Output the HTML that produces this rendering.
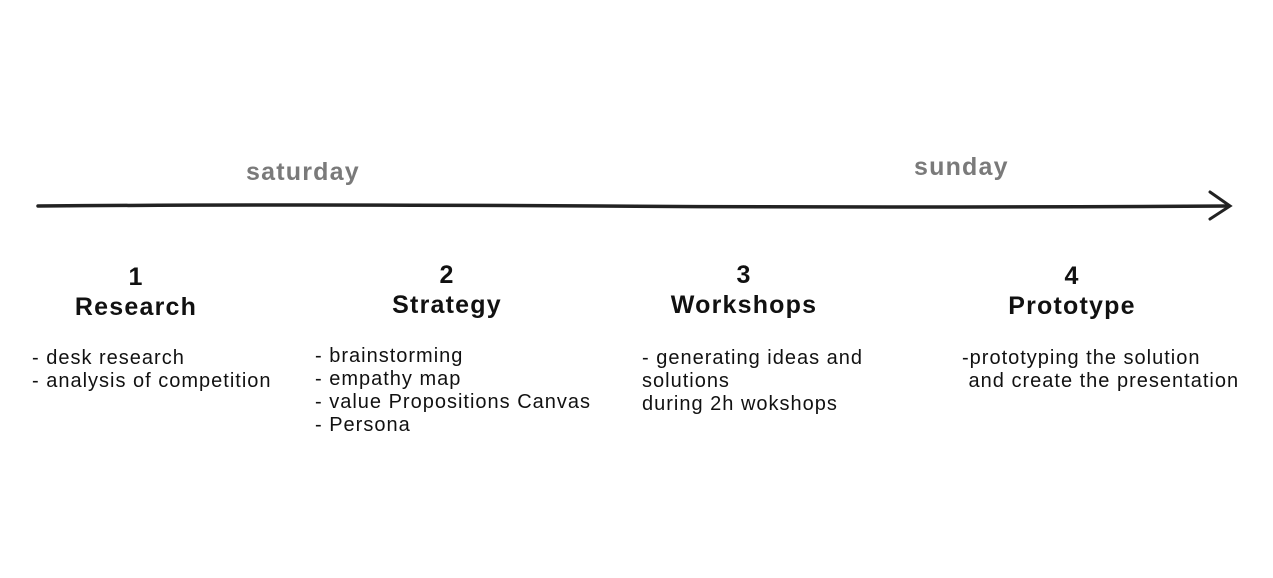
<!DOCTYPE html>
<html><head><style>
body{margin:0;width:1273px;height:578px;background:#fff;position:relative;font-family:"Liberation Sans",sans-serif;overflow:hidden}
.t{position:absolute;white-space:nowrap}
.g{color:#7a7a7a;font-weight:bold;font-size:25px;letter-spacing:1.2px}
.h{font-weight:bold;font-size:25px;color:#111;text-align:center;line-height:30px;letter-spacing:1.2px}
.b{font-size:20px;color:#111;line-height:23px;letter-spacing:1px}
</style></head><body>
<svg width="1273" height="578" style="position:absolute;left:0;top:0">
<path d="M38 206 Q300 204 600 206 T1228 206" stroke="#222" stroke-width="3.5" fill="none" stroke-linecap="round"/>
<path d="M1210 192 L1230 206 L1210 219" stroke="#222" stroke-width="3" fill="none" stroke-linecap="round"/>
</svg>
<div class="t g" style="left:246px;top:158px">saturday</div>
<div class="t g" style="left:914px;top:153px">sunday</div>
<div class="t h" style="left:36px;top:262px;width:200px">1<br>Research</div>
<div class="t h" style="left:347px;top:260px;width:200px">2<br>Strategy</div>
<div class="t h" style="left:644px;top:260px;width:200px">3<br>Workshops</div>
<div class="t h" style="left:972px;top:261px;width:200px">4<br>Prototype</div>
<div class="t b" style="left:32px;top:347px">- desk research<br>- analysis of competition</div>
<div class="t b" style="left:315px;top:345px">- brainstorming<br>- empathy map<br>- value Propositions Canvas<br>- Persona</div>
<div class="t b" style="left:642px;top:347px">- generating ideas and<br>solutions<br>during 2h wokshops</div>
<div class="t b" style="left:962px;top:347px">-prototyping the solution<br>&nbsp;and create the presentation</div>
</body></html>
